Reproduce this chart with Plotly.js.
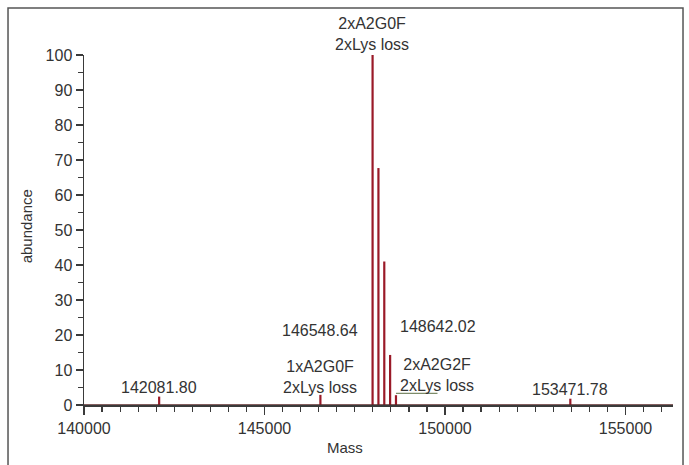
<!DOCTYPE html>
<html>
<head>
<meta charset="utf-8">
<script src="https://cdn.plot.ly/plotly-3.0.1.min.js"></script>
<style>
html,body{margin:0;padding:0;background:#fff;}
#chart{width:689px;height:465px;}
</style>
</head>
<body>
<div id="chart"></div>
<script>
// Peak data (mass in Da, relative abundance %)
const peakMass = [142081.80, 146548.64, 147994, 148156, 148318, 148480, 148642.02, 153471.78];
const peakAbund = [2.4, 2.9, 100, 67.7, 41, 14.3, 2.8, 1.8];

const xTickVals = [140000, 145000, 150000, 155000];
const yTickVals = [0, 10, 20, 30, 40, 50, 60, 70, 80, 90, 100];

// Build stick spectrum from data
const sx = [], sy = [];
peakMass.forEach((m, i) => { sx.push(m, m, null); sy.push(0, peakAbund[i], null); });

const peakColor = '#9a1a28';
const axisColor = '#3a3a3a';
const textColor = '#333333';
const fnt = 'Liberation Sans, Arial, Helvetica, sans-serif';

const traces = [
  { type: 'scatter', mode: 'lines', x: sx, y: sy,
    line: { color: peakColor, width: 2.2 }, hoverinfo: 'skip', showlegend: false, cliponaxis: false },
  { type: 'scatter', mode: 'lines', x: [140000, 156316], y: [0, 0],
    line: { color: '#5a2a2a', width: 1.5 }, hoverinfo: 'skip', showlegend: false, cliponaxis: false }
];

const ann = (text, x, y) => ({ text, x, y, xref: 'x', yref: 'y', showarrow: false,
  xanchor: 'center', yanchor: 'middle', font: { family: fnt, size: 16, color: textColor } });

const layout = {
  width: 689, height: 465,
  margin: { l: 84, r: 16, t: 55, b: 60, pad: 0 },
  paper_bgcolor: '#ffffff', plot_bgcolor: '#ffffff',
  showlegend: false,
  xaxis: {
    range: [140000, 156316], tickvals: xTickVals, ticktext: xTickVals.map(String),
    showgrid: false, zeroline: false, showline: true, linecolor: axisColor, linewidth: 1.5,
    ticks: 'outside', ticklen: 8, tickwidth: 1.5, tickcolor: axisColor,
    minor: { dtick: 500, tick0: 140000, ticks: 'outside', ticklen: 5, tickwidth: 1.2, tickcolor: axisColor, showgrid: false },
    tickfont: { family: fnt, size: 16, color: textColor }, fixedrange: true
  },
  yaxis: {
    range: [0, 100], tickvals: yTickVals, ticktext: yTickVals.map(String),
    showgrid: false, zeroline: false, showline: true, linecolor: axisColor, linewidth: 1.5,
    ticks: 'outside', ticklen: 7, tickwidth: 1.5, tickcolor: axisColor,
    minor: { dtick: 5, ticks: 'outside', ticklen: 5, tickwidth: 1.2, tickcolor: axisColor, showgrid: false },
    tickfont: { family: fnt, size: 16, color: textColor }, fixedrange: true
  },
  annotations: [
    { text: '2xA2G0F<br>2xLys loss', x: 147978, xref: 'x', y: 1.061, yref: 'paper', showarrow: false,
      xanchor: 'center', yanchor: 'middle', font: { family: fnt, size: 16, color: textColor } },
    ann(peakMass[0].toFixed(2), 142081.8, 5.1),
    ann(peakMass[1].toFixed(2), 146548, 21.4),
    ann('1xA2G0F<br>2xLys loss', 146548, 8.0),
    ann(peakMass[6].toFixed(2), 149806, 22.3),
    ann('2xA2G2F<br>2xLys loss', 149778, 8.7),
    ann(peakMass[7].toFixed(2), 153471.78, 4.3),
    { text: 'abundance', xref: 'paper', yref: 'paper', x: -0.097, y: 0.51, showarrow: false,
      textangle: -90, xanchor: 'center', yanchor: 'middle', font: { family: fnt, size: 15, color: textColor } },
    { text: 'Mass', xref: 'paper', yref: 'paper', x: 0.443, y: -0.12, showarrow: false,
      xanchor: 'center', yanchor: 'middle', font: { family: fnt, size: 15, color: textColor } }
  ],
  shapes: [
    // leader line for 2xA2G2F label
    { type: 'line', xref: 'x', yref: 'y', x0: peakMass[6], x1: peakMass[6] + 1150,
      y0: 3.3, y1: 3.3, line: { color: '#7d8c6a', width: 1.2 } },
    // outer frame
    { type: 'rect', xref: 'paper', yref: 'paper', x0: -0.129, x1: 1.017, y0: -0.2, y1: 1.134,
      line: { color: '#555555', width: 1.5 }, fillcolor: 'rgba(0,0,0,0)', layer: 'above' }
  ]
};

Plotly.newPlot('chart', traces, layout, { staticPlot: true, displayModeBar: false });
</script>
</body>
</html>
